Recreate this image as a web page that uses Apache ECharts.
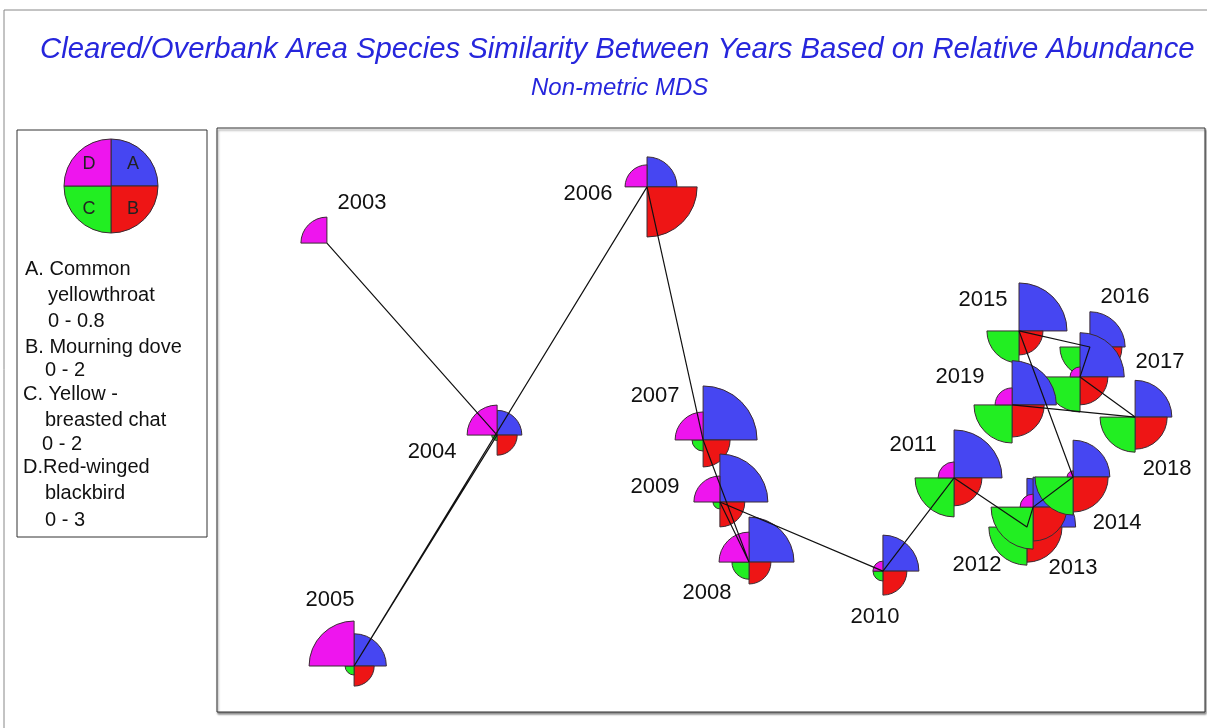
<!DOCTYPE html>
<html>
<head>
<meta charset="utf-8">
<script src="https://cdn.jsdelivr.net/npm/echarts@6/dist/echarts.min.js"></script>
<style>
html,body{margin:0;padding:0;background:#fff;}
#main{width:1207px;height:728px;}
</style>
</head>
<body>
<div id="main"></div>
<script>
// years and their MDS coordinates
var years = ['2003','2004','2005','2006','2007','2008','2009','2010','2011','2012','2013','2014','2015','2016','2017','2018','2019'];
var mdsX = [-1.555,-0.866,-1.445,-0.259,-0.032,0.154,0.036,0.696,0.984,1.279,1.304,1.466,1.247,1.534,1.494,1.717,1.219];
var mdsY = [0.727,-0.062,-1.011,0.958,-0.082,-0.584,-0.337,-0.621,-0.238,-0.440,-0.358,-0.234,0.366,0.300,0.177,0.012,0.062];

// relative abundance per species (A..D)
var yellowthroat = [0,0.33,0.43,0.40,0.72,0.60,0.64,0.48,0.64,0.65,0.40,0.49,0.64,0.47,0.59,0.49,0.59];
var mourningDove = [0,0.67,0.67,1.67,0.90,0.73,0.83,0.80,0.93,1.17,1.13,1.17,0.80,1.07,0.93,1.07,1.07];
var yellowChat   = [0,0.18,0.30,0,0.37,0.57,0.23,0.33,1.30,1.27,1.40,1.27,1.07,1.00,1.17,1.17,1.27];
var redwing      = [1.30,1.50,2.25,1.10,1.40,1.50,1.30,0.50,0.80,0.30,0.65,0.30,0,0,0.50,0,0.85];
var speciesMax = [0.8, 2, 2, 3];

var legendLines = ['A. Common','yellowthroat','0 - 0.8','B. Mourning dove','0 - 2','C. Yellow -','breasted chat','0 - 2','D.Red-winged','blackbird','0 - 3'];

// layout / style
var fullRadius = 60;
var colors = ['#4646f2', '#ee1515', '#22ee22', '#ee15ee'];
var quadStart = [-Math.PI / 2, 0, Math.PI / 2, Math.PI];
var labelOffset = [[35,-40],[-65,17],[-24,-66],[-59,7],[-48,-44],[-42,31],[-65,-15],[-8,46],[-41,-33],[-50,38],[40,61],[44,46],[-36,-31],[35,-50],[80,-15],[32,52],[-52,-28]];
var legendX = [25,48,48,25,45,23,45,42,23,45,45];
var legendY = [269,295,321,347,370,394,420,444,467,493,520];

var chart = echarts.init(document.getElementById('main'));

var glyphData = years.map(function (y, i) {
    return [mdsX[i], mdsY[i], yellowthroat[i], mourningDove[i], yellowChat[i], redwing[i]];
});
var pathData = years.map(function (y, i) { return [mdsX[i], mdsY[i]]; });
var labelData = years.map(function (y, i) {
    return { value: [mdsX[i], mdsY[i]], name: y, label: { offset: labelOffset[i] } };
});

function renderGlyph(params, api) {
    var p = api.coord([api.value(0), api.value(1)]);
    var children = [];
    for (var k = 0; k < 4; k++) {
        var r = api.value(2 + k) / speciesMax[k] * fullRadius;
        if (r <= 0) continue;
        children.push({
            type: 'sector',
            shape: { cx: p[0], cy: p[1], r0: 0, r: r, startAngle: quadStart[k], endAngle: quadStart[k] + Math.PI / 2 },
            style: { fill: colors[k], stroke: '#3b2b33', lineWidth: 1 }
        });
    }
    return { type: 'group', children: children };
}

var graphics = [
    { type: 'rect', shape: { x: 4, y: 10, width: 1240, height: 760 }, style: { fill: 'none', stroke: '#888', lineWidth: 1 }, silent: true },
    { type: 'rect', shape: { x: 17, y: 130, width: 190, height: 407 }, style: { fill: '#fff', stroke: '#333', lineWidth: 1 } }
];
for (var k = 0; k < 4; k++) {
    graphics.push({
        type: 'sector',
        shape: { cx: 111, cy: 186, r0: 0, r: 47, startAngle: quadStart[k], endAngle: quadStart[k] + Math.PI / 2 },
        style: { fill: colors[k], stroke: '#3b2b33', lineWidth: 1 }
    });
}
[['A',133,164],['B',133,209],['C',89,209],['D',89,164]].forEach(function (t) {
    graphics.push({ type: 'text', x: t[1], y: t[2], style: { text: t[0], font: '18px "Liberation Sans", Arial, sans-serif', fill: '#222', textAlign: 'center', textVerticalAlign: 'middle' } });
});
legendLines.forEach(function (s, i) {
    graphics.push({ type: 'text', x: legendX[i], y: legendY[i], style: { text: s, font: '20px "Liberation Sans", Arial, sans-serif', fill: '#111', textAlign: 'left', textVerticalAlign: 'middle' } });
});

var option = {
    animation: false,
    backgroundColor: '#fff',
    title: [{
        text: 'Cleared/Overbank Area Species Similarity Between Years Based on Relative Abundance',
        left: 35, top: 30,
        textStyle: { fontFamily: '"Liberation Sans", Arial, sans-serif', fontStyle: 'italic', fontWeight: 'normal', fontSize: 29.3, color: '#2626dc' }
    }, {
        text: 'Non-metric MDS',
        left: 526, top: 71,
        textStyle: { fontFamily: '"Liberation Sans", Arial, sans-serif', fontStyle: 'italic', fontWeight: 'normal', fontSize: 24, color: '#2626dc' }
    }],
    grid: {
        left: 217, top: 128, width: 988, height: 584,
        show: true, backgroundColor: '#fff', borderColor: '#333', borderWidth: 1,
        shadowColor: 'rgba(0,0,0,0.45)', shadowBlur: 2, shadowOffsetX: 1, shadowOffsetY: 2
    },
    xAxis: { type: 'value', min: -2, max: 2, show: false },
    yAxis: { type: 'value', min: -1.2, max: 1.2, show: false },
    graphic: graphics,
    series: [{
        type: 'custom',
        renderItem: renderGlyph,
        data: glyphData,
        z: 2
    }, {
        type: 'line',
        data: pathData,
        symbol: 'none',
        lineStyle: { color: '#111', width: 1.2 },
        z: 5
    }, {
        type: 'scatter',
        data: labelData,
        symbolSize: 0,
        itemStyle: { opacity: 1 },
        z: 6,
        label: {
            show: true, position: 'inside', formatter: '{b}',
            fontFamily: '"Liberation Sans", Arial, sans-serif', fontSize: 22, color: '#111',
            textBorderWidth: 0
        }
    }]
};
chart.setOption(option);
</script>
</body>
</html>
